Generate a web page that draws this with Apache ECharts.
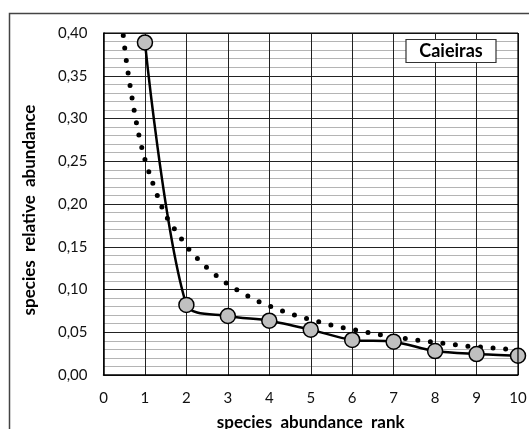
<!DOCTYPE html>
<html>
<head>
<meta charset="utf-8">
<script src="https://cdn.jsdelivr.net/npm/echarts@6/dist/echarts.min.js"></script>
<style>
html,body{margin:0;padding:0;background:#fff;}
#chart{width:529px;height:429px;}
</style>
</head>
<body>
<div id="chart"></div>
<script>
// observed species: rank and relative abundance
const ranks = [1, 2, 3, 4, 5, 6, 7, 8, 9, 10];
const abundance = [0.389, 0.082, 0.069, 0.0635, 0.053, 0.041, 0.039, 0.028, 0.0245, 0.0225];
// fitted model curve (dotted)
const modelX = [0.477, 0.55, 0.64, 0.735, 0.848, 0.99, 1.176, 1.386, 1.51, 1.675, 1.843, 2.02, 2.21, 2.42, 2.655, 2.887, 3.14, 3.40, 3.667, 3.93, 4.21, 4.49, 4.78, 5.055, 5.36, 5.65, 5.94, 6.24, 6.535, 6.82, 7.13, 7.43, 7.7, 8.0, 8.31, 8.6, 8.9, 9.2, 9.49, 9.8];
const modelY = [0.397, 0.3677, 0.3388, 0.3108, 0.2819, 0.2538, 0.2261, 0.1992, 0.186, 0.1735, 0.1618, 0.1494, 0.139, 0.1287, 0.119, 0.110, 0.1018, 0.0947, 0.0877, 0.0822, 0.0768, 0.0721, 0.0675, 0.064, 0.060, 0.0565, 0.0538, 0.0511, 0.0483, 0.046, 0.0436, 0.0416, 0.0401, 0.0382, 0.0363, 0.0347, 0.0331, 0.0324, 0.0312, 0.030];
const yTicks = [0, 0.05, 0.10, 0.15, 0.20, 0.25, 0.30, 0.35, 0.40];
const xTicks = [0, 1, 2, 3, 4, 5, 6, 7, 8, 9, 10];
const siteLabel = 'Caieiras';

const FONT = 'Lato';
const chart = echarts.init(document.getElementById('chart'), null, {renderer: 'canvas'});
const obsData = ranks.map((r, i) => [r, abundance[i]]);
const modelData = modelX.map((x, i) => [x, modelY[i]]);

chart.setOption({
  animation: false,
  backgroundColor: '#fff',
  grid: {left: 103.5, right: 11, top: 33, bottom: 54, show: false, containLabel: false, outerBoundsMode: 'none'},
  xAxis: {
    type: 'value', min: xTicks[0], max: xTicks[xTicks.length - 1], interval: 1,
    name: 'species  abundance  rank', nameLocation: 'middle', nameGap: 39,
    nameTextStyle: {fontFamily: FONT, fontWeight: 'bold', fontSize: 17, color: '#000'},
    axisLine: {show: true, onZero: false, lineStyle: {color: '#000', width: 1.5}},
    axisTick: {show: false},
    axisLabel: {fontFamily: FONT, fontSize: 15, color: '#111', margin: 16},
    splitLine: {show: true, lineStyle: {color: '#222', width: 1}}
  },
  yAxis: {
    type: 'value', min: yTicks[0], max: yTicks[yTicks.length - 1], interval: 0.05,
    name: 'species  relative  abundance', nameLocation: 'middle', nameGap: 65, nameRotate: 90,
    nameTextStyle: {fontFamily: FONT, fontWeight: 'bold', fontSize: 17, color: '#000', padding: [0, 12, 0, 0]},
    axisLine: {show: true, lineStyle: {color: '#000', width: 1.5}},
    axisTick: {show: false},
    axisLabel: {fontFamily: FONT, fontSize: 15, color: '#111', margin: 16,
      formatter: v => v.toFixed(2).replace('.', ',')},
    splitLine: {show: true, lineStyle: {color: '#222', width: 1}},
    minorTick: {show: false, splitNumber: 5},
    minorSplitLine: {show: true, lineStyle: {color: '#b4b4b4', width: 1}}
  },
  series: [
    {
      type: 'line', data: modelData, showSymbol: false, symbol: 'none', smooth: 0.3,
      lineStyle: {color: '#000', width: 5, type: [0, 12.6], cap: 'round'},
      z: 3, silent: true
    },
    {
      type: 'line', data: obsData, smooth: 0.3,
      symbol: 'circle', symbolSize: 15,
      lineStyle: {color: '#000', width: 2.5},
      itemStyle: {color: '#c0c0c0', borderColor: '#000', borderWidth: 1.5},
      z: 4, silent: true
    }
  ],
  graphic: [
    {type: 'rect', shape: {x: 9.5, y: 13.5, width: 600, height: 500},
     style: {fill: 'none', stroke: '#444', lineWidth: 1.5}, z: 0, silent: true},
    {type: 'rect', shape: {x: 518, y: 33, width: 0, height: 342},
     style: {fill: 'none', stroke: '#000', lineWidth: 1.2}, z: 10, silent: true},
    {type: 'rect', shape: {x: 103.5, y: 33, width: 414.5, height: 0},
     style: {fill: 'none', stroke: '#000', lineWidth: 1.2}, z: 10, silent: true},
    {type: 'rect', shape: {x: 406, y: 39.5, width: 90, height: 23},
     style: {fill: '#fff', stroke: '#333', lineWidth: 1.2}, z: 20, silent: true},
    {type: 'text', x: 451, y: 51.5, z: 21, silent: true,
     style: {text: siteLabel, fontFamily: FONT, fontWeight: 'bold', fontSize: 18,
       fill: '#000', align: 'center', verticalAlign: 'middle'}}
  ]
});
</script>
</body>
</html>
